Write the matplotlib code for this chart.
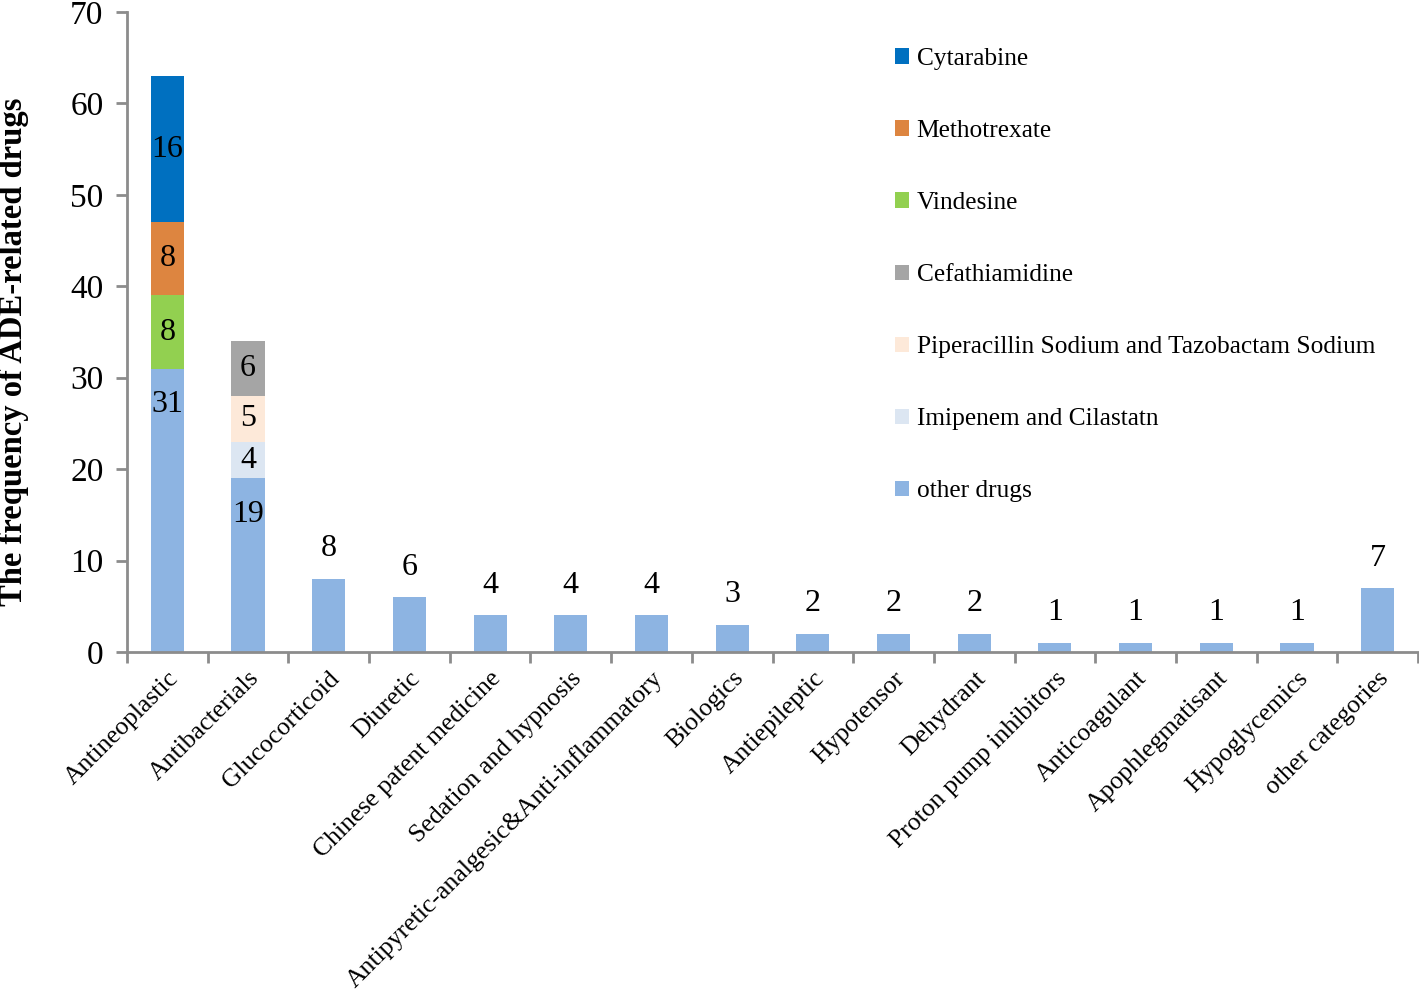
import matplotlib.pyplot as plt
import numpy as np
from matplotlib.patches import Patch

plt.rcParams['font.family'] = ['Liberation Serif', 'DejaVu Serif']

categories = ['Antineoplastic', 'Antibacterials', 'Glucocorticoid', 'Diuretic',
              'Chinese patent medicine', 'Sedation and hypnosis',
              'Antipyretic-analgesic&Anti-inflammatory', 'Biologics', 'Antiepileptic',
              'Hypotensor', 'Dehydrant', 'Proton pump inhibitors', 'Anticoagulant',
              'Apophlegmatisant', 'Hypoglycemics', 'other categories']

other_drugs = [31, 19, 8, 6, 4, 4, 4, 3, 2, 2, 2, 1, 1, 1, 1, 7]
imipenem = [0, 4] + [0] * 14
piperacillin = [0, 5] + [0] * 14
cefathiamidine = [0, 6] + [0] * 14
vindesine = [8, 0] + [0] * 14
methotrexate = [8, 0] + [0] * 14
cytarabine = [16, 0] + [0] * 14

series = [
    ('other drugs', other_drugs, '#8DB4E2'),
    ('Imipenem and Cilastatn', imipenem, '#DCE6F2'),
    ('Piperacillin Sodium and Tazobactam Sodium', piperacillin, '#FDE9D9'),
    ('Cefathiamidine', cefathiamidine, '#A5A5A5'),
    ('Vindesine', vindesine, '#92D050'),
    ('Methotrexate', methotrexate, '#DD8540'),
    ('Cytarabine', cytarabine, '#0070C0'),
]

fig = plt.figure(figsize=(14.19, 9.9), dpi=100)
ax = fig.add_axes([127 / 1419, 1 - 652 / 990, 1291 / 1419, 640 / 990])

x = np.arange(len(categories))
width = 0.41
bottom = np.zeros(len(categories))
stacked = np.zeros(len(categories), dtype=bool)
for name, vals, col in series[1:]:
    stacked |= np.array(vals) > 0

handles = []
for name, vals, col in series:
    vals = np.array(vals, dtype=float)
    ax.bar(x, vals, width, bottom=bottom, color=col, edgecolor='none')
    handles.append(Patch(facecolor=col, edgecolor='none', label=name))
    for i, v in enumerate(vals):
        if v <= 0:
            continue
        if name == 'other drugs':
            off = -36 if stacked[i] else 30
            ax.annotate(f'{int(v)}', (x[i], bottom[i] + v), xytext=(0, off),
                        textcoords='offset pixels', ha='center', va='center', fontsize=23)
        else:
            ax.text(x[i], bottom[i] + v / 2, f'{int(v)}', ha='center', va='center', fontsize=23)
    bottom += vals

ax.set_xlim(-0.5, len(categories) - 0.5)
ax.set_ylim(0, 70)
ax.set_yticks(range(0, 71, 10))
ax.set_xticks(x)
ax.set_xticklabels(categories, rotation=45, ha='right', rotation_mode='anchor', fontsize=18.5)
ax.set_xticks(np.arange(-0.5, len(categories) + 0.5, 1), minor=True)
ax.tick_params(axis='x', which='major', length=0, pad=11)
ax.tick_params(axis='x', which='minor', length=8, width=2, color='#8c8c8c', direction='out')
ax.tick_params(axis='y', length=8, width=2, color='#8c8c8c', labelsize=24, pad=9)

for s in ['top', 'right']:
    ax.spines[s].set_visible(False)
for s in ['left', 'bottom']:
    ax.spines[s].set_color('#8c8c8c')
    ax.spines[s].set_linewidth(2)

ax.set_ylabel('The frequency of ADE-related drugs', fontsize=23.5, fontweight='bold')
ax.yaxis.set_label_coords(-0.076, 0.469)

fig.legend(handles=handles[::-1], loc='upper left', bbox_to_anchor=(895 / 1419, 1 - 48 / 990),
           frameon=False, fontsize=18.3, handlelength=0.55, handleheight=0.55,
           handletextpad=0.3, labelspacing=1.97, borderpad=0, borderaxespad=0)

fig.savefig('out.png', dpi=100)
